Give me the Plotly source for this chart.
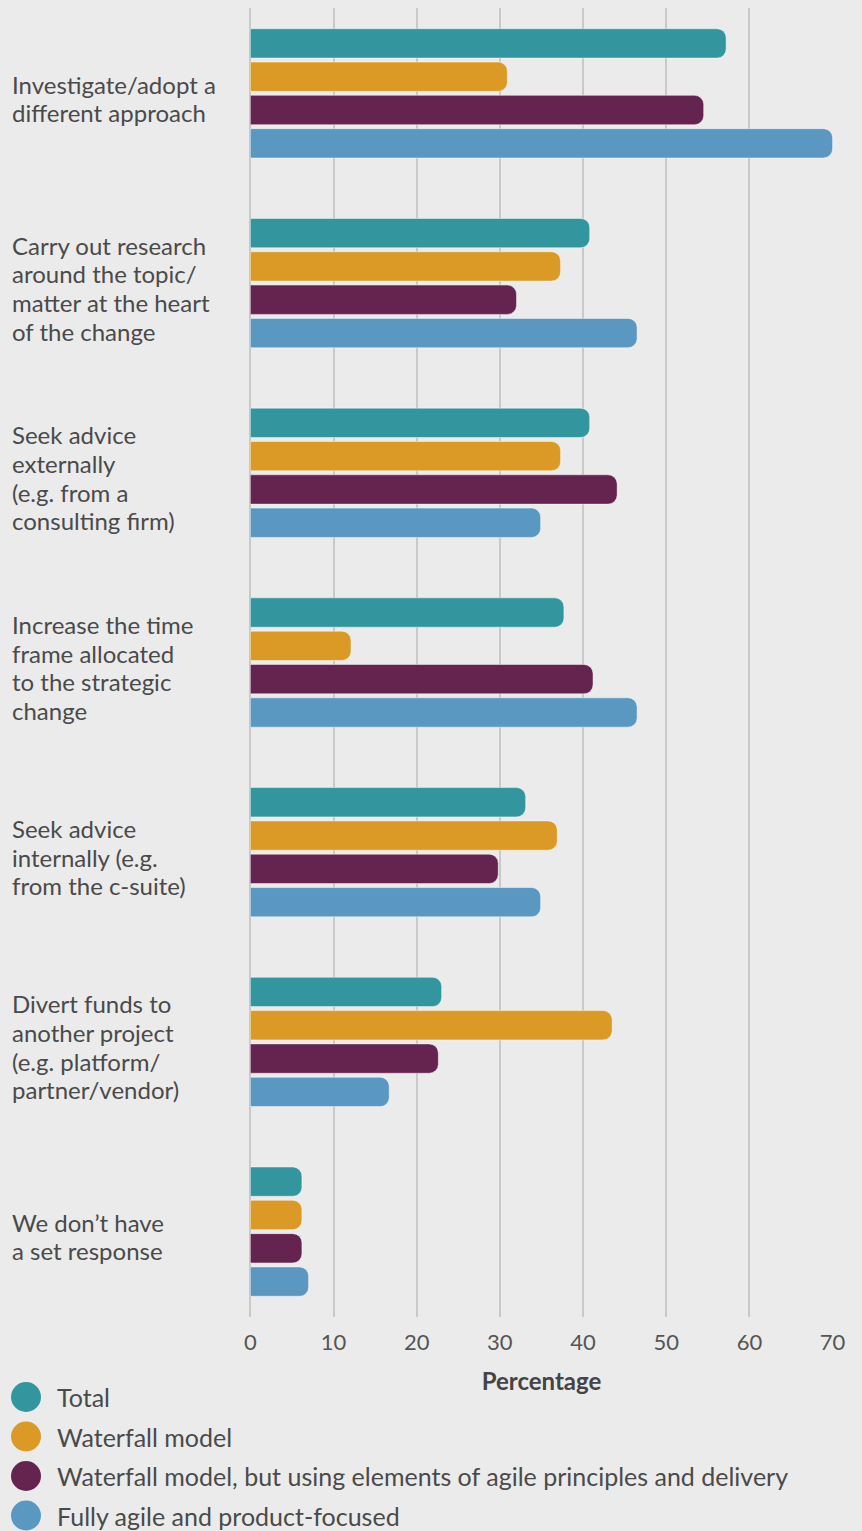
import plotly.graph_objects as go

# Response categories (top to bottom), one entry per label line
categories = [
    ["Investigate/adopt a", "different approach"],
    ["Carry out research", "around the topic/", "matter at the heart", "of the change"],
    ["Seek advice", "externally", "(e.g. from a", "consulting firm)"],
    ["Increase the time", "frame allocated", "to the strategic", "change"],
    ["Seek advice", "internally (e.g.", "from the c-suite)"],
    ["Divert funds to", "another project", "(e.g. platform/", "partner/vendor)"],
    ["We don\u2019t have", "a set response"],
]
category_ids = [f"c{i}" for i in range(len(categories))]

series_names = [
    "Total",
    "Waterfall model",
    "Waterfall model, but using elements of agile principles and delivery",
    "Fully agile and product-focused",
]
total = [57.2, 40.8, 40.8, 37.7, 33.1, 23.0, 6.2]
waterfall = [30.9, 37.3, 37.3, 12.1, 36.9, 43.5, 6.2]
hybrid = [54.5, 32.0, 44.1, 41.2, 29.8, 22.6, 6.2]
agile = [70.0, 46.5, 34.9, 46.5, 34.9, 16.7, 7.0]
series_values = [total, waterfall, hybrid, agile]
colors = ["#33969e", "#db9a26", "#65234f", "#5a98c2"]

x_ticks = [0, 10, 20, 30, 40, 50, 60, 70]

BG = "#ebebeb"
TEXT = "#4a4a4a"
FONT = "Lato"
LABEL_SIZE = 24
LEGEND_SIZE = 25
LINE_GAP = 28.7

fig = go.Figure()
for name, vals, col in zip(series_names, series_values, colors):
    fig.add_trace(go.Bar(
        y=category_ids, x=vals, name=name, orientation="h",
        marker=dict(color=col, line=dict(color="rgba(255,255,255,0.45)", width=1)),
        showlegend=False, hoverinfo="x+name",
    ))

# Left-aligned multi-line category labels, one annotation per line
annotations = []
for cid, lines in zip(category_ids, categories):
    n = len(lines)
    for i, line in enumerate(lines):
        annotations.append(dict(
            x=-0.4115, xref="paper", y=cid, yref="y",
            yshift=-((i - (n - 1) / 2) * LINE_GAP) - 5,
            text=line, showarrow=False, xanchor="left", yanchor="middle",
            font=dict(family=FONT, size=LABEL_SIZE, color=TEXT),
        ))

# Legend drawn as circles plus text below the plot
shapes = []
plot_top, plot_bottom = 8, 1317
plot_h = plot_bottom - plot_top
legend_rows = [1397, 1436.5, 1476, 1515.5]
circle_x = (26 - 250) / 583
text_x = (55 - 250) / 583
for name, col, py in zip(series_names, colors, legend_rows):
    yp = (plot_bottom - py) / plot_h
    shapes.append(dict(
        type="circle", xref="paper", yref="paper",
        xsizemode="pixel", ysizemode="pixel",
        xanchor=circle_x, yanchor=yp,
        x0=-15, x1=15, y0=-15, y1=15,
        fillcolor=col, line=dict(width=0),
    ))
    annotations.append(dict(
        x=text_x, xref="paper", y=yp, yref="paper",
        text=name, showarrow=False, xanchor="left", yanchor="middle",
        font=dict(family=FONT, size=LEGEND_SIZE, color=TEXT),
    ))

fig.update_layout(
    width=862, height=1531,
    margin=dict(l=250, r=29, t=plot_top, b=1531 - plot_bottom, pad=0),
    paper_bgcolor=BG, plot_bgcolor=BG,
    barmode="group", bargap=0.2975, bargroupgap=0.12,
    barcornerradius=9,
    showlegend=False,
    font=dict(family=FONT, color=TEXT),
    annotations=annotations, shapes=shapes,
    xaxis=dict(
        range=[-0.04, 70.05], tickvals=x_ticks, ticktext=[str(t) for t in x_ticks],
        showgrid=True, gridcolor="#c9c9c9", gridwidth=1.5,
        zeroline=True, zerolinecolor="#c9c9c9", zerolinewidth=1.5,
        showline=False,
        ticks="outside", ticklen=6, tickcolor="rgba(0,0,0,0)",
        tickfont=dict(family=FONT, size=22, color="#555555"),
        title=dict(text="<b>Percentage</b>", standoff=18,
                   font=dict(family=FONT, size=24, color="#444444")),
        fixedrange=True,
    ),
    yaxis=dict(
        categoryorder="array", categoryarray=category_ids,
        range=[6.45, -0.45], showticklabels=False, showgrid=False,
        zeroline=False, showline=False, fixedrange=True,
    ),
)

fig.write_html("out.html")
